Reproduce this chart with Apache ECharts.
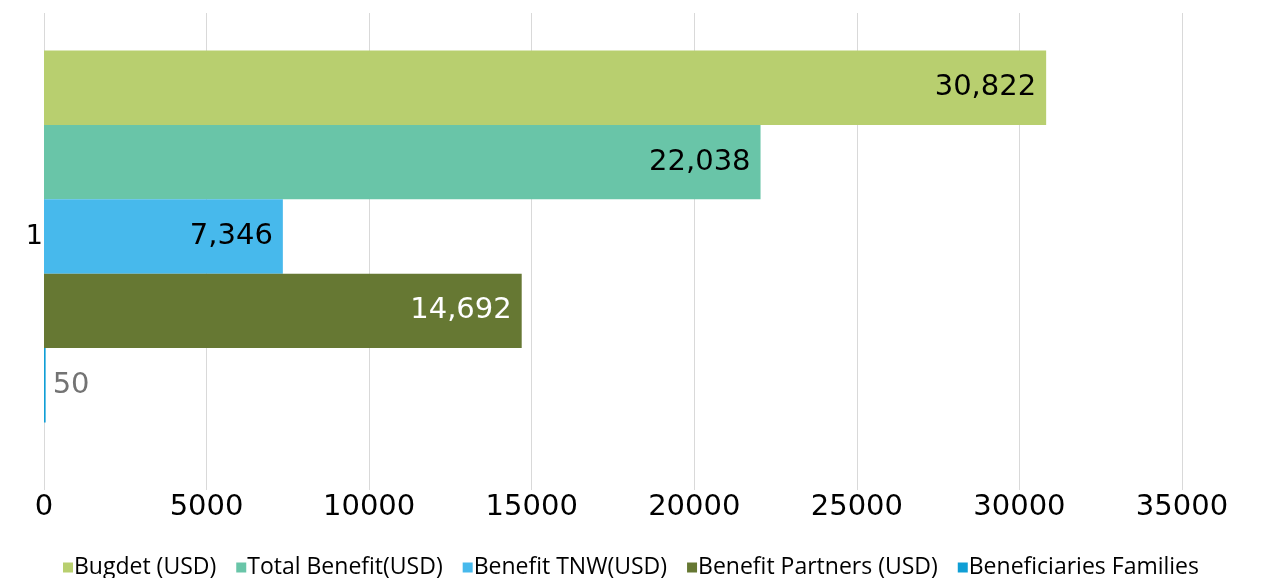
<!DOCTYPE html>
<html>
<head>
<meta charset="utf-8">
<title>Budget and benefits</title>
<script src="https://cdn.jsdelivr.net/npm/echarts@6/dist/echarts.min.js"></script>
<style>
  html, body { margin: 0; padding: 0; background: #ffffff; }
  #chart { width: 1262px; height: 578px; }
</style>
</head>
<body>
<div id="chart"></div>
<script>
// data
const categories = ['1'];
const seriesNames = [
  'Bugdet (USD)',
  'Total Benefit(USD)',
  'Benefit TNW(USD)',
  'Benefit Partners (USD)',
  'Beneficiaries Families'
];
const seriesValues = [30822, 22038, 7346, 14692, 50];
const seriesColors = ['#b8cf6f', '#69c5a8', '#47b9ec', '#667833', '#0f9ed5'];
const labelColors = ['#000000', '#000000', '#000000', '#ffffff', '#737373'];
const xTicks = [0, 5000, 10000, 15000, 20000, 25000, 30000, 35000];

const myChart = echarts.init(document.getElementById('chart'));

const fmt = (v) => v.toLocaleString('en-US');

const series = seriesNames.map((name, i) => {
  const outside = seriesValues[i] < 1000;
  return {
    name: name,
    type: 'bar',
    data: [seriesValues[i]],
    barGap: '0%',
    barCategoryGap: '16.8%',
    itemStyle: { color: seriesColors[i] },
    label: {
      show: true,
      position: outside ? 'right' : 'insideRight',
      distance: outside ? 7 : 10,
      color: labelColors[i],
      fontFamily: 'DejaVu Sans',
      fontSize: 29,
      formatter: (p) => fmt(p.value)
    }
  };
});

const option = {
  animation: false,
  backgroundColor: '#ffffff',
  textStyle: { fontFamily: 'DejaVu Sans' },
  grid: {
    left: 44,
    right: 80,
    top: 13,
    bottom: 118,
    containLabel: false
  },
  xAxis: {
    type: 'value',
    min: 0,
    max: xTicks[xTicks.length - 1],
    interval: 5000,
    axisLine: { show: false },
    axisTick: {
      show: true,
      length: 30,
      lineStyle: { color: '#d9d9d9', width: 1 }
    },
    axisLabel: {
      margin: 33,
      color: '#000000',
      fontSize: 29,
      fontFamily: 'DejaVu Sans',
      formatter: (v) => String(v)
    },
    splitLine: { show: true, lineStyle: { color: '#d9d9d9', width: 1 } }
  },
  yAxis: {
    type: 'category',
    data: categories,
    inverse: true,
    axisLine: { show: false },
    axisTick: { show: false },
    axisLabel: {
      margin: 1,
      color: '#000000',
      fontSize: 27,
      fontFamily: 'DejaVu Sans'
    }
  },
  legend: {
    data: seriesNames,
    top: 551,
    left: 'center',
    icon: 'rect',
    itemWidth: 10,
    itemHeight: 10,
    itemGap: 20,
    textStyle: {
      fontFamily: 'Open Sans',
      fontSize: 23,
      color: '#000000',
      padding: [0, 0, 0, -4]
    }
  },
  series: series
};

myChart.setOption(option);
window.addEventListener('resize', () => myChart.resize());
</script>
</body>
</html>
